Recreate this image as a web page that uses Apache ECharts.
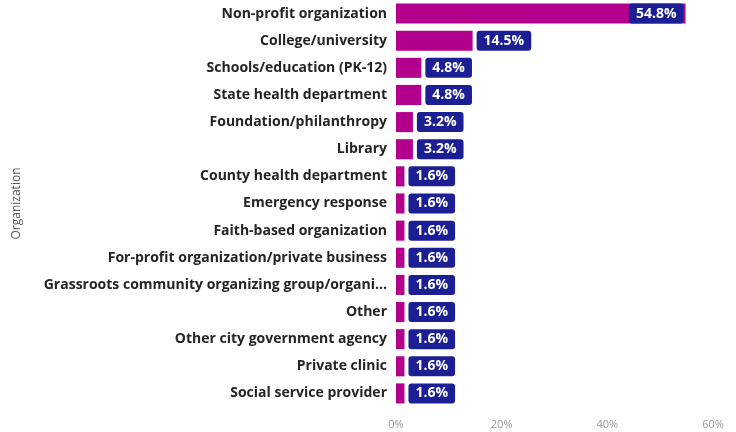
<!DOCTYPE html>
<html>
<head>
<meta charset="utf-8">
<script src="https://cdn.jsdelivr.net/npm/echarts@6/dist/echarts.min.js"></script>
<style>html,body{margin:0;padding:0;background:#fff}#c{width:736px;height:432px}</style>
</head>
<body>
<div id="c"></div>
<script>
var categories = [
  "Non-profit organization",
  "College/university",
  "Schools/education (PK-12)",
  "State health department",
  "Foundation/philanthropy",
  "Library",
  "County health department",
  "Emergency response",
  "Faith-based organization",
  "For-profit organization/private business",
  "Grassroots community organizing group/organization",
  "Other",
  "Other city government agency",
  "Private clinic",
  "Social service provider"
];
var values = [54.8, 14.5, 4.8, 4.8, 3.2, 3.2, 1.6, 1.6, 1.6, 1.6, 1.6, 1.6, 1.6, 1.6, 1.6];
var xTicks = [0, 20, 40, 60];

var chart = echarts.init(document.getElementById('c'));
var labelBase = {
  show: true,
  formatter: function (p) { return p.value.toFixed(1) + '%'; },
  color: '#ffffff',
  fontFamily: 'Open Sans',
  fontWeight: 'bold',
  fontSize: 14,
  lineHeight: 16,
  backgroundColor: '#1C1F94',
  borderRadius: 3,
  padding: [2, 7]
};
var data = values.map(function (v, i) {
  var lab = Object.assign({}, labelBase, i === 0 ? { position: 'insideRight', distance: 2 } : { position: 'right', distance: 4 });
  return { value: v, label: lab };
});
chart.setOption({
  animation: false,
  grid: { left: 396, right: 23, top: 0, bottom: 25 },
  xAxis: {
    type: 'value', min: xTicks[0], max: xTicks[xTicks.length - 1], interval: 20,
    axisLine: { show: false }, axisTick: { show: false }, splitLine: { show: false },
    axisLabel: { formatter: '{value}%', color: '#9a9a9a', fontSize: 11, fontFamily: 'Open Sans', margin: 12 }
  },
  yAxis: {
    type: 'category', data: categories, inverse: true,
    name: 'Organization', nameLocation: 'middle', nameGap: 373, nameRotate: 90,
    nameTextStyle: { color: '#555555', fontSize: 12, fontFamily: 'Open Sans' },
    axisLine: { show: false }, axisTick: { show: false },
    axisLabel: { color: '#252423', fontSize: 14, fontWeight: 'bold', fontFamily: 'Open Sans', margin: 9,
      width: 345, overflow: 'truncate', ellipsis: '...' }
  },
  series: [{
    type: 'bar', data: data, barCategoryGap: '26%',
    itemStyle: { color: '#B3008C' }
  }]
});
</script>
</body>
</html>
